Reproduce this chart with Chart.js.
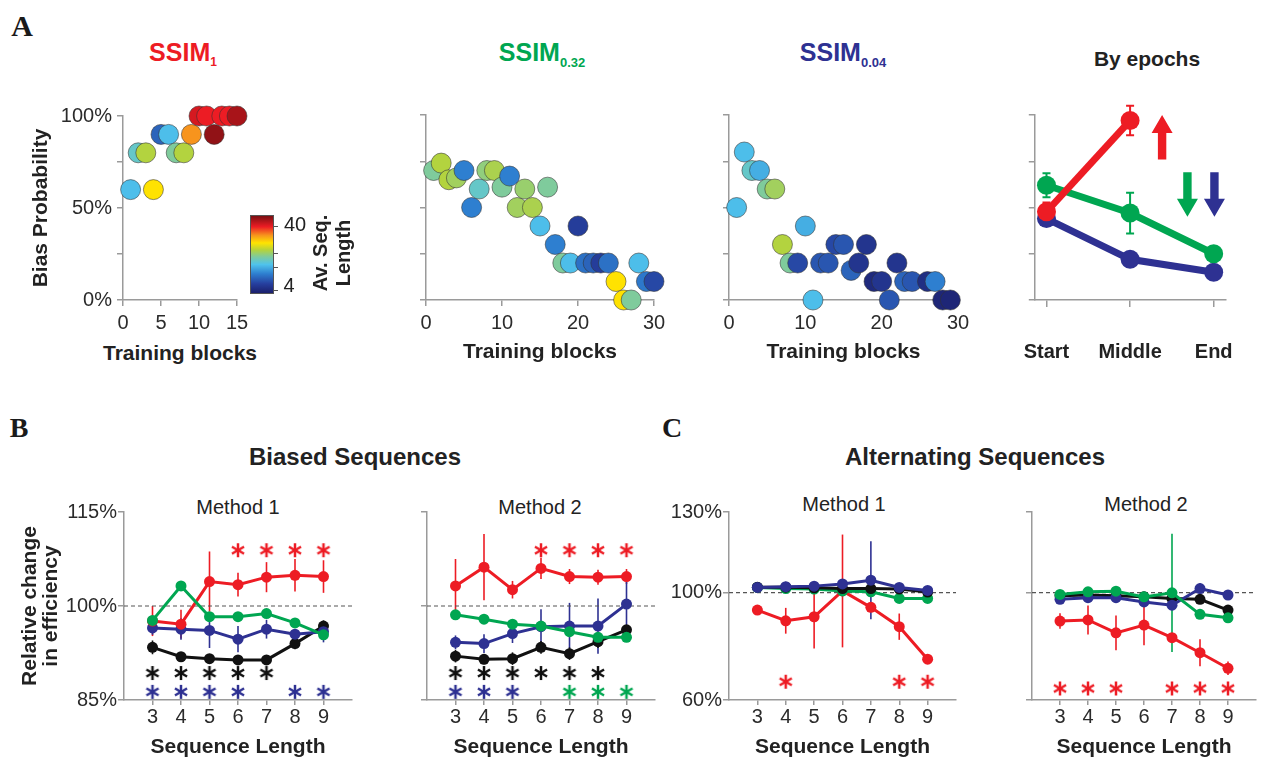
<!DOCTYPE html>
<html><head><meta charset="utf-8">
<script src="https://cdn.jsdelivr.net/npm/chart.js@4.4.1/dist/chart.umd.min.js"></script>
<style>
html,body{margin:0;padding:0;background:#fff;width:1266px;height:757px;overflow:hidden;position:relative;font-family:'Liberation Sans',Arial,Helvetica,sans-serif;}
canvas{position:absolute;}
.t{position:absolute;white-space:nowrap;transform:translate(-50%,-50%);line-height:1;color:#222;}
.b{font-weight:bold;}
.serif{font-family:'Liberation Serif','Times New Roman',serif;font-weight:bold;color:#1a1a1a;}
.rot{transform:translate(-50%,-50%) rotate(-90deg);text-align:center;}
.sub{position:relative;top:0.45em;}
.cbar{position:absolute;left:250px;top:215px;width:22px;height:77px;border:1px solid #555;}
.ctk{position:absolute;left:273px;width:5px;height:1px;background:#555;}
</style></head><body>

<div class="t serif" style="left:22px;top:26px;font-size:30px">A</div>
<div class="t b" style="left:183px;top:52px;font-size:25px;color:#ed1c24">SSIM<span class="sub" style="font-size:12px">1</span></div>
<div class="t b" style="left:542px;top:52px;font-size:25px;color:#00a651">SSIM<span class="sub" style="font-size:13px">0.32</span></div>
<div class="t b" style="left:843px;top:52px;font-size:25px;color:#2e3192">SSIM<span class="sub" style="font-size:13px">0.04</span></div>
<div class="t b" style="left:1147px;top:58px;font-size:21px">By epochs</div>
<div class="t b" style="left:180px;top:352px;font-size:21px">Training blocks</div>

<div class="t serif" style="left:19px;top:428px;font-size:28px">B</div>
<div class="t serif" style="left:672px;top:428px;font-size:28px">C</div>
<div class="t b" style="left:355px;top:457px;font-size:24px">Biased Sequences</div>
<div class="t b" style="left:975px;top:457px;font-size:24px">Alternating Sequences</div>

<div class="t" style="left:238px;top:507px;font-size:20px">Method 1</div>
<div class="t" style="left:540px;top:507px;font-size:20px">Method 2</div>
<div class="t" style="left:844px;top:504px;font-size:20px">Method 1</div>
<div class="t" style="left:1146px;top:504px;font-size:20px">Method 2</div>

<canvas id="a1"></canvas>
<canvas id="a2"></canvas>
<canvas id="a3"></canvas>
<canvas id="a4"></canvas>
<canvas id="b1"></canvas>
<canvas id="b2"></canvas>
<canvas id="c1"></canvas>
<canvas id="c2"></canvas>

<div class="cbar" id="cbar"></div>
<div class="ctk" style="top:226px"></div>
<div class="ctk" style="top:253px"></div>
<div class="ctk" style="top:267px"></div>
<div class="ctk" style="top:290px"></div>
<div class="t" style="left:295px;top:224px;font-size:20px">40</div>
<div class="t" style="left:289px;top:285px;font-size:20px">4</div>
<div class="t b rot" style="left:332px;top:253px;font-size:20px;line-height:23px">Av. Seq.<br>Length</div>

<script>
// ---------------- DATA ----------------
// Panel A: training block, bias probability (%), average sequence length (colour)
const blocksSSIM1 = [1,2,3,4,5,6,7,8,9,10,11,12,13,14,15,16];
const biasSSIM1   = [60,80,80,60,90,90,80,80,90,100,100,90,100,100,100,100];
const lenSSIM1    = [17,19,24,27.5,11,17,21,24,31,36,35,39,35,35,38,4.5];

const blocksSSIM032 = [1,2,3,4,5,6,7,8,9,10,11,12,13,14,15,16,17,18,19,20,21,22,23,24,25,26,27,28,29,30];
const biasSSIM032   = [70,74,65,66,70,50,60,70,70,61,67,50,60,50,40,61,30,20,20,40,20,20,20,20,10,0,0,20,10,10];
const lenSSIM032    = [21,24,24,23,13,13,19,22,23.5,21,13,23,22.5,23.5,17,21,13,21,17,8,12,11,8,12,27.5,27.5,21,17,12.5,9];

const blocksSSIM004 = [1,2,3,4,5,6,7,8,9,10,11,12,13,14,15,16,17,18,19,20,21,22,23,24,26,27,28,29];
const biasSSIM004   = [50,80,70,70,60,60,30,20,20,40,0,20,20,30,30,16,20,30,10,10,0,20,10,10,10,10,0,0];
const lenSSIM004    = [17,17,19,16,21,23,24,21,9,16,17,10,10,9,10,11,7,7,5.5,7,10,7,11,10,6,13,5,5];

// Panel A, by epochs
const epochLabels = ['Start','Middle','End'];
const epochSSIM1    = [47.7, 97];
const epochSSIM1Err = [5, 8];
const epochSSIM032    = [62, 47, 25];
const epochSSIM032Err = [6.5, 11, 0];
const epochSSIM004    = [44, 22, 15];
const epochSSIM004Err = [0, 0, 0];

// Panels B, C
const seqLengths = [3,4,5,6,7,8,9];
// B, Method 1
const b1Red   = [97.6, 97.1, 103.9, 103.4, 104.6, 104.9, 104.7];
const b1RedErr= [2.4, 2.3, 4.8, 1.9, 2.4, 2.6, 2.6];
const b1Green = [97.7, 103.2, 98.3, 98.3, 98.8, 97.3, 95.4];
const b1GreenErr = [0, 0, 0, 0, 0, 0, 0.6];
const b1Blue  = [96.5, 96.3, 96.1, 94.7, 96.3, 95.5, 95.9];
const b1BlueErr = [1.1, 1.7, 2.8, 2.1, 1.5, 0.6, 1.7];
const b1Black = [93.4, 91.9, 91.6, 91.4, 91.4, 94.0, 96.8];
const b1BlackErr = [1.1, 0.7, 0.7, 0.7, 0.7, 0.9, 0.9];
// B, Method 2
const b2Red   = [103.2, 106.2, 102.6, 106.0, 104.7, 104.6, 104.7];
const b2RedErr= [4.3, 5.3, 1.4, 1.7, 1.2, 1.2, 1.2];
const b2Green = [98.6, 97.9, 97.1, 96.8, 95.9, 95.0, 95.0];
const b2GreenErr = [0, 0, 0, 0, 0, 0, 0];
const b2Blue  = [94.2, 94.0, 95.6, 96.7, 96.8, 96.8, 100.3];
const b2BlueErr = [1.1, 1.5, 1.5, 2.8, 3.7, 4.4, 3.6];
const b2Black = [92.0, 91.5, 91.6, 93.4, 92.4, 94.3, 96.2];
const b2BlackErr = [1.0, 0.8, 1.0, 1.0, 1.0, 1.0, 0.5];
// C, Method 1
const c1Red   = [93.5, 89.5, 91.0, 100.6, 94.5, 87.3, 75.2];
const c1RedErr= [0, 4.8, 11.8, 21, 0, 4.9, 0];
const c1Green = [101.9, 101.5, 101.3, 100.6, 100.3, 97.8, 97.8];
const c1GreenErr = [0, 0, 0, 0, 0, 0, 0];
const c1Blue  = [101.9, 102.2, 102.4, 103.2, 104.6, 101.9, 100.8];
const c1BlueErr = [0, 0, 0, 0, 14.5, 0, 0];
const c1Black = [102.0, 102.0, 101.8, 101.5, 101.5, 101.3, 100.2];
const c1BlackErr = [0, 0, 0, 0, 0, 0, 0];
// C, Method 2
const c2Red   = [89.4, 89.8, 85.0, 87.9, 83.2, 77.6, 71.8];
const c2RedErr= [2.9, 5.4, 6.5, 7.5, 0, 5.0, 2.5];
const c2Green = [99.3, 100.3, 100.5, 98.4, 99.9, 91.9, 90.6];
const c2GreenErr = [0, 0, 0, 0, 22, 0, 0];
const c2Blue  = [97.5, 98.1, 98.1, 96.5, 95.3, 101.5, 99.1];
const c2BlueErr = [0, 0, 0, 0, 0, 2, 0];
const c2Black = [98.8, 99.1, 98.8, 98.4, 97.8, 97.5, 93.5];
const c2BlackErr = [0, 0, 0, 0, 0, 0, 0];

// significance markers (sequence lengths with *)
const sigB1Red = [6,7,8,9], sigB1Black = [3,4,5,6,7], sigB1Blue = [3,4,5,6,8,9];
const sigB2Red = [6,7,8,9], sigB2Black = [3,4,5,6,7,8], sigB2Blue = [3,4,5], sigB2Green = [7,8,9];
const sigC1Red = [4,8,9];
const sigC2Red = [3,4,5,7,8,9];

// tick labels
const ticksBias = [0,25,50,75,100];
const ticksBiased = [85,100,115];
const ticksAlt = [60,100,130];

// ---------------- STYLE ----------------
const RED='#ed1c24', GREEN='#00a651', BLUE='#2e3192', BLACK='#111111';
const AXIS='#9a9a9a';
const FONT="'Liberation Sans', Arial, Helvetica, sans-serif";
Chart.defaults.font.family=FONT;
Chart.defaults.color='#2b2b2b';

const cmapStops=[[0,'#1b1f6b'],[0.12,'#263f9e'],[0.25,'#2e7fd0'],[0.37,'#4fc3ec'],[0.47,'#7ecb9e'],[0.56,'#b6d33a'],[0.65,'#ffe400'],[0.75,'#f7941d'],[0.86,'#ed1c24'],[1,'#7a0f12']];
function hex(h){return [parseInt(h.slice(1,3),16),parseInt(h.slice(3,5),16),parseInt(h.slice(5,7),16)];}
function lenColor(v){
  let t=Math.max(0,Math.min(1,(v-4)/36));
  for(let i=1;i<cmapStops.length;i++){
    if(t<=cmapStops[i][0]){
      const [t0,c0]=cmapStops[i-1],[t1,c1]=cmapStops[i];
      const f=(t-t0)/(t1-t0), a=hex(c0), b=hex(c1);
      return 'rgb('+a.map((x,k)=>Math.round(x+(b[k]-x)*f)).join(',')+')';
    }
  }
  return cmapStops[cmapStops.length-1][1];
}
document.getElementById('cbar').style.background='linear-gradient(to top,'+cmapStops.map(s=>s[1]+' '+(s[0]*100)+'%').join(',')+')';

function asteriskImg(color){
  const c=document.createElement('canvas'); c.width=18; c.height=18;
  const g=c.getContext('2d'); g.strokeStyle=color; g.lineWidth=2.5;
  g.translate(9,9);
  for(let k=0;k<3;k++){g.save();g.rotate(k*Math.PI/3);g.beginPath();g.moveTo(0,-7);g.lineTo(0,7);g.stroke();g.restore();}
  return c;
}

const errorBars={
  id:'errorBars',
  beforeDatasetsDraw(chart){
    const ctx=chart.ctx, xs=chart.scales.x, ys=chart.scales.y;
    chart.data.datasets.forEach(ds=>{
      if(!ds.errors) return;
      ctx.save(); ctx.strokeStyle=ds.borderColor; ctx.lineWidth=ds.errorWidth||1.5;
      ds.data.forEach((p,j)=>{
        const e=ds.errors[j]; if(!e||p.y==null) return;
        const x=xs.getPixelForValue(p.x), y0=ys.getPixelForValue(p.y-e), y1=ys.getPixelForValue(p.y+e);
        ctx.beginPath(); ctx.moveTo(x,y0); ctx.lineTo(x,y1);
        const cw=ds.capWidth||0;
        if(cw){ctx.moveTo(x-cw,y0);ctx.lineTo(x+cw,y0);ctx.moveTo(x-cw,y1);ctx.lineTo(x+cw,y1);}
        ctx.stroke();
      });
      ctx.restore();
    });
  }
};

const arrowPlugin={
  id:'arrows',
  afterDatasetsDraw(chart,args,opts){
    const ctx=chart.ctx, xs=chart.scales.x, ys=chart.scales.y;
    (opts.items||[]).forEach(a=>{
      const x=xs.getPixelForValue(a.x), yt=ys.getPixelForValue(a.from), yh=ys.getPixelForValue(a.to);
      const dir=yh<yt?-1:1, hl=18, sw=4.2, hw=10.5;
      ctx.save(); ctx.fillStyle=a.color; ctx.beginPath();
      ctx.moveTo(x-sw,yt); ctx.lineTo(x-sw,yh-dir*hl); ctx.lineTo(x-hw,yh-dir*hl); ctx.lineTo(x,yh);
      ctx.lineTo(x+hw,yh-dir*hl); ctx.lineTo(x+sw,yh-dir*hl); ctx.lineTo(x+sw,yt); ctx.closePath(); ctx.fill(); ctx.restore();
    });
  }
};

function place(id,r){
  const c=document.getElementById(id);
  c.width=r.w; c.height=r.h;
  c.style.left=r.x+'px'; c.style.top=r.y+'px'; c.style.width=r.w+'px'; c.style.height=r.h+'px';
  return c;
}
function axisX(o){
  return {type:'linear',position:'bottom',min:o.min,max:o.max,
    afterBuildTicks:s=>{s.ticks=o.ticks.map(v=>({value:v}));},
    afterFit:s=>{s.height=o.height;},
    grid:{display:true,drawOnChartArea:false,drawTicks:true,tickLength:o.tickLen,color:AXIS,lineWidth:1.5},
    border:{display:true,color:AXIS,width:1.5},
    ticks:{font:{size:20,weight:o.bold?'bold':'normal'},color:o.bold?'#222':'#2b2b2b',padding:o.pad,maxRotation:0,autoSkip:false,callback:o.label||(v=>String(v))},
    title:o.title?{display:true,text:o.title,color:'#222',font:{size:21,weight:'bold',lineHeight:1.2},padding:{top:0,bottom:o.titlePad}}:{display:false}
  };
}
function axisY(o){
  return {type:'linear',position:'left',min:o.min,max:o.max,
    afterBuildTicks:s=>{s.ticks=o.ticks.map(v=>({value:v}));},
    afterFit:s=>{s.width=o.width;},
    grid:{display:true,drawOnChartArea:false,drawTicks:true,tickLength:6,color:AXIS,lineWidth:1.5},
    border:{display:true,color:AXIS,width:1.5},
    ticks:{font:{size:20},color:'#2b2b2b',padding:o.pad||1,autoSkip:false,callback:o.label||(()=>'')},
    title:o.title?{display:true,text:o.title,color:'#222',font:{size:21,weight:'bold',lineHeight:o.lh||1.2},padding:{top:o.titlePad,bottom:0}}:{display:false}
  };
}
function build(id,r,area,xo,yo,datasets,plugOpts){
  const c=place(id,r);
  xo.height=r.y+r.h-area.B; yo.width=area.L-r.x;
  return new Chart(c,{type:'line',data:{datasets},
    options:{responsive:false,animation:false,events:[],
      layout:{padding:{left:0,top:area.T-r.y,right:r.x+r.w-area.R,bottom:0}},
      plugins:Object.assign({legend:{display:false},tooltip:{enabled:false}},plugOpts||{}),
      scales:{x:axisX(xo),y:axisY(yo)}},
    plugins:[errorBars,arrowPlugin]});
}

// ---------------- PANEL A scatter ----------------
function scatterDS(xs,ys,lens){
  return [{data:xs.map((x,i)=>({x,y:ys[i]})),showLine:false,clip:false,
    pointRadius:10,pointBorderWidth:0.7,pointBorderColor:'rgba(50,50,50,0.8)',
    pointBackgroundColor:lens.map(lenColor)}];
}
const pctLabel=v=>(v%50===0?v+'%':'');
build('a1',{x:0,y:80,w:262,h:290},{L:123,T:116,R:237,B:300},
  {min:0,max:15,ticks:[0,5,10,15],tickLen:6,pad:5},
  {min:0,max:100,ticks:ticksBias,label:pctLabel,pad:5,title:'Bias Probability',titlePad:29},
  scatterDS(blocksSSIM1,biasSSIM1,lenSSIM1));
build('a2',{x:380,y:80,w:300,h:290},{L:426,T:115,R:654,B:300},
  {min:0,max:30,ticks:[0,10,20,30],tickLen:6,pad:5,title:'Training blocks',titlePad:5},
  {min:0,max:100,ticks:ticksBias},
  scatterDS(blocksSSIM032,biasSSIM032,lenSSIM032));
build('a3',{x:683,y:80,w:300,h:290},{L:729,T:115,R:958,B:300},
  {min:0,max:30,ticks:[0,10,20,30],tickLen:6,pad:5,title:'Training blocks',titlePad:5},
  {min:0,max:100,ticks:ticksBias},
  scatterDS(blocksSSIM004,biasSSIM004,lenSSIM004));

// ---------------- PANEL A epochs ----------------
function epochDS(vals,errs,color,order){
  return {data:vals.map((y,i)=>({x:i,y})),errors:errs,borderColor:color,backgroundColor:color,
    borderWidth:7,pointRadius:9.5,pointBorderWidth:0,order,errorWidth:2,capWidth:4,clip:false};
}
build('a4',{x:990,y:80,w:276,h:290},{L:1032,T:115,R:1259,B:300},
  {min:-0.14,max:2.15,ticks:[0,1,2],tickLen:7,pad:33,bold:true,label:v=>epochLabels[v]||''},
  {min:0,max:100,ticks:ticksBias},
  [epochDS(epochSSIM1,epochSSIM1Err,RED,0),epochDS(epochSSIM032,epochSSIM032Err,GREEN,1),epochDS(epochSSIM004,epochSSIM004Err,BLUE,2)],
  {arrows:{items:[{x:1.383,from:76,to:100,color:RED},{x:1.686,from:69,to:45,color:GREEN},{x:2.009,from:69,to:45,color:BLUE}]}});

// ---------------- PANELS B, C ----------------
function lineDS(vals,errs,color,order){
  return {data:seqLengths.map((x,i)=>({x,y:vals[i]})),errors:errs,borderColor:color,backgroundColor:color,
    borderWidth:3,pointRadius:5.5,pointBorderWidth:0,order,errorWidth:1.6,tension:0};
}
function starDS(xs,y,color){
  return {data:xs.map(x=>({x,y})),showLine:false,pointStyle:asteriskImg(color),pointRadius:9,order:-1,clip:false};
}
function refLine(){
  return {data:[{x:2,y:100},{x:10,y:100}],borderColor:'#555',borderWidth:1.2,borderDash:[4,3],pointRadius:0,order:20};
}
const seqX=()=>({min:2,max:10,ticks:seqLengths,tickLen:5,pad:0,title:'Sequence Length',titlePad:2});

build('b1',{x:0,y:470,w:370,h:292},{L:124,T:512,R:352,B:700},seqX(),
  {min:85,max:115,ticks:ticksBiased,label:v=>v+'%',pad:1,title:['Relative change','in efficiency'],titlePad:19.5,lh:1.0},
  [lineDS(b1Green,b1GreenErr,GREEN,0),lineDS(b1Red,b1RedErr,RED,1),lineDS(b1Blue,b1BlueErr,BLUE,2),lineDS(b1Black,b1BlackErr,BLACK,3),
   refLine(),starDS(sigB1Red,108.9,RED),starDS(sigB1Black,89.3,BLACK),starDS(sigB1Blue,86.3,BLUE)]);
build('b2',{x:372,y:470,w:300,h:292},{L:427,T:512,R:655,B:700},seqX(),
  {min:85,max:115,ticks:ticksBiased},
  [lineDS(b2Red,b2RedErr,RED,0),lineDS(b2Green,b2GreenErr,GREEN,1),lineDS(b2Blue,b2BlueErr,BLUE,2),lineDS(b2Black,b2BlackErr,BLACK,3),
   refLine(),starDS(sigB2Red,108.9,RED),starDS(sigB2Black,89.3,BLACK),starDS(sigB2Blue,86.3,BLUE),starDS(sigB2Green,86.3,GREEN)]);
build('c1',{x:660,y:470,w:310,h:292},{L:729,T:512,R:956,B:700},seqX(),
  {min:60,max:130,ticks:ticksAlt,label:v=>v+'%',pad:1},
  [lineDS(c1Blue,c1BlueErr,BLUE,0),lineDS(c1Black,c1BlackErr,BLACK,1),lineDS(c1Green,c1GreenErr,GREEN,2),lineDS(c1Red,c1RedErr,RED,3),
   refLine(),starDS(sigC1Red,66.8,RED)]);
build('c2',{x:975,y:470,w:291,h:292},{L:1032,T:512,R:1260,B:700},seqX(),
  {min:60,max:130,ticks:ticksAlt},
  [lineDS(c2Green,c2GreenErr,GREEN,0),lineDS(c2Blue,c2BlueErr,BLUE,1),lineDS(c2Black,c2BlackErr,BLACK,2),lineDS(c2Red,c2RedErr,RED,3),
   refLine(),starDS(sigC2Red,64.3,RED)]);
</script>
</body></html>
